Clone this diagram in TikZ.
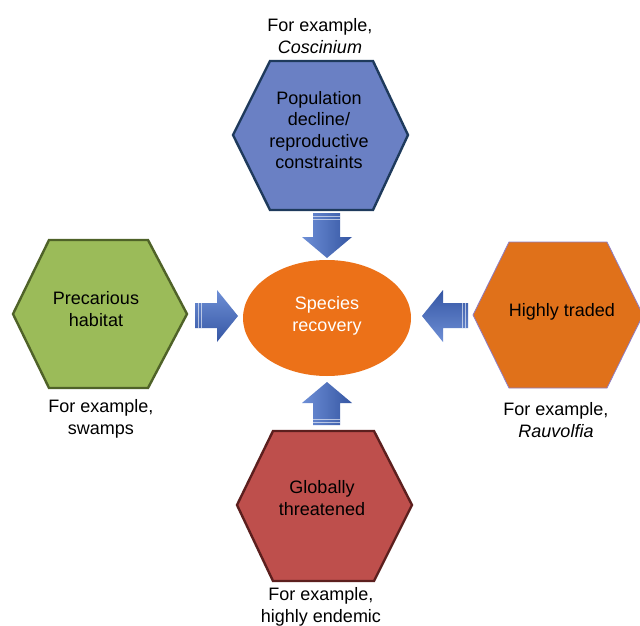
\documentclass[tikz,border=0pt]{standalone}
\usepackage{fontspec}
\setmainfont{Liberation Sans}
\usetikzlibrary{shapes.geometric}
\definecolor{topfill}{HTML}{6A80C4}
\definecolor{topline}{HTML}{1E3A5C}
\definecolor{leftfill}{HTML}{9BBB59}
\definecolor{leftline}{HTML}{4F6228}
\definecolor{rightfill}{HTML}{E0711A}
\definecolor{rightline}{HTML}{8E7CC3}
\definecolor{botfill}{HTML}{BE4F4C}
\definecolor{botline}{HTML}{5C1F1E}
\definecolor{ellfill}{HTML}{EC7118}
\definecolor{arrlight}{HTML}{6E8FD6}
\definecolor{arrdark}{HTML}{3556A3}
\tikzset{
  txt/.style={align=center, font=\fontsize{18}{21.5}\selectfont, text=black, inner sep=0pt},
  hexline/.style={line width=2.4pt, line join=miter},
  blockarrow/.style={draw=none},
}
\begin{document}
\begin{tikzpicture}[x=1pt,y=-1pt]
\fill[white] (0,0) rectangle (640,626);
\useasboundingbox (0,0) rectangle (640,626);
\clip (0,0) rectangle (640,626);
% hexagons
\draw[hexline, draw=topline, fill=topfill] (233,135) -- (270,61) -- (373,61) -- (408,135) -- (373,210) -- (270,210) -- cycle;
\draw[hexline, draw=leftline, fill=leftfill] (13,314) -- (49,240) -- (148,240) -- (187,314) -- (148,388) -- (49,388) -- cycle;
\draw[line width=0.8pt, draw=rightline, fill=rightfill] (473,315) -- (509,242) -- (607,242) -- (643,315) -- (607,388) -- (509,388) -- cycle;
\draw[hexline, draw=botline, fill=botfill] (237,505) -- (273,431) -- (374,431) -- (412,505) -- (374,581) -- (273,581) -- cycle;
% hexagon texts
\node[txt] (pop) at (319,130) {Population\\decline/\\reproductive\\constraints};
\node[txt] (hab) at (96,309) {Precarious\\habitat};
\node[txt] (trade) at (562,312) {Highly traded};
\node[txt] (glob) at (322,498) {Globally\\threatened};
% example labels
\node[txt] (exTop) at (320,36) {For example,\\\textit{Coscinium}};
\node[txt] (exLeft) at (101,419) {For example,\\swamps};
\node[txt] (exRight) at (556,420) {For example,\\\textit{Rauvolfia}};
\node[txt] (exBot) at (321,607) {For example,\\highly endemic};
% centre
\node[ellipse, fill=ellfill, minimum width=168pt, minimum height=116pt, inner sep=0pt] (rec) at (327,318) {};
\node[txt, text=white] (rectxt) at (327,316) {Species\\recovery};
% arrows
\shade[left color=arrlight, right color=arrdark] (313,213) -- (340,213) -- (340,237) -- (352,237) -- (327,258) -- (302,237) -- (313,237) -- cycle;
\shade[top color=arrlight, bottom color=arrdark] (195,303) -- (217,303) -- (217,290) -- (238,316) -- (217,342) -- (217,328) -- (195,328) -- cycle;
\shade[top color=arrdark, bottom color=arrlight] (468,303) -- (443,303) -- (443,290) -- (422,316) -- (443,342) -- (443,328) -- (468,328) -- cycle;
\shade[left color=arrlight, right color=arrdark] (313,425) -- (340,425) -- (340,403) -- (352,403) -- (327,382) -- (302,403) -- (313,403) -- cycle;
% tail stripes
\draw[white, opacity=0.6, line width=0.6pt] (313,216) -- (340,216) (313,219) -- (340,219);
\draw[white, opacity=0.6, line width=0.6pt] (198,303) -- (198,328) (201,303) -- (201,328);
\draw[white, opacity=0.6, line width=0.6pt] (465,303) -- (465,328) (462,303) -- (462,328);
\draw[white, opacity=0.6, line width=0.6pt] (313,422) -- (340,422) (313,419) -- (340,419);
\end{tikzpicture}
\end{document}
